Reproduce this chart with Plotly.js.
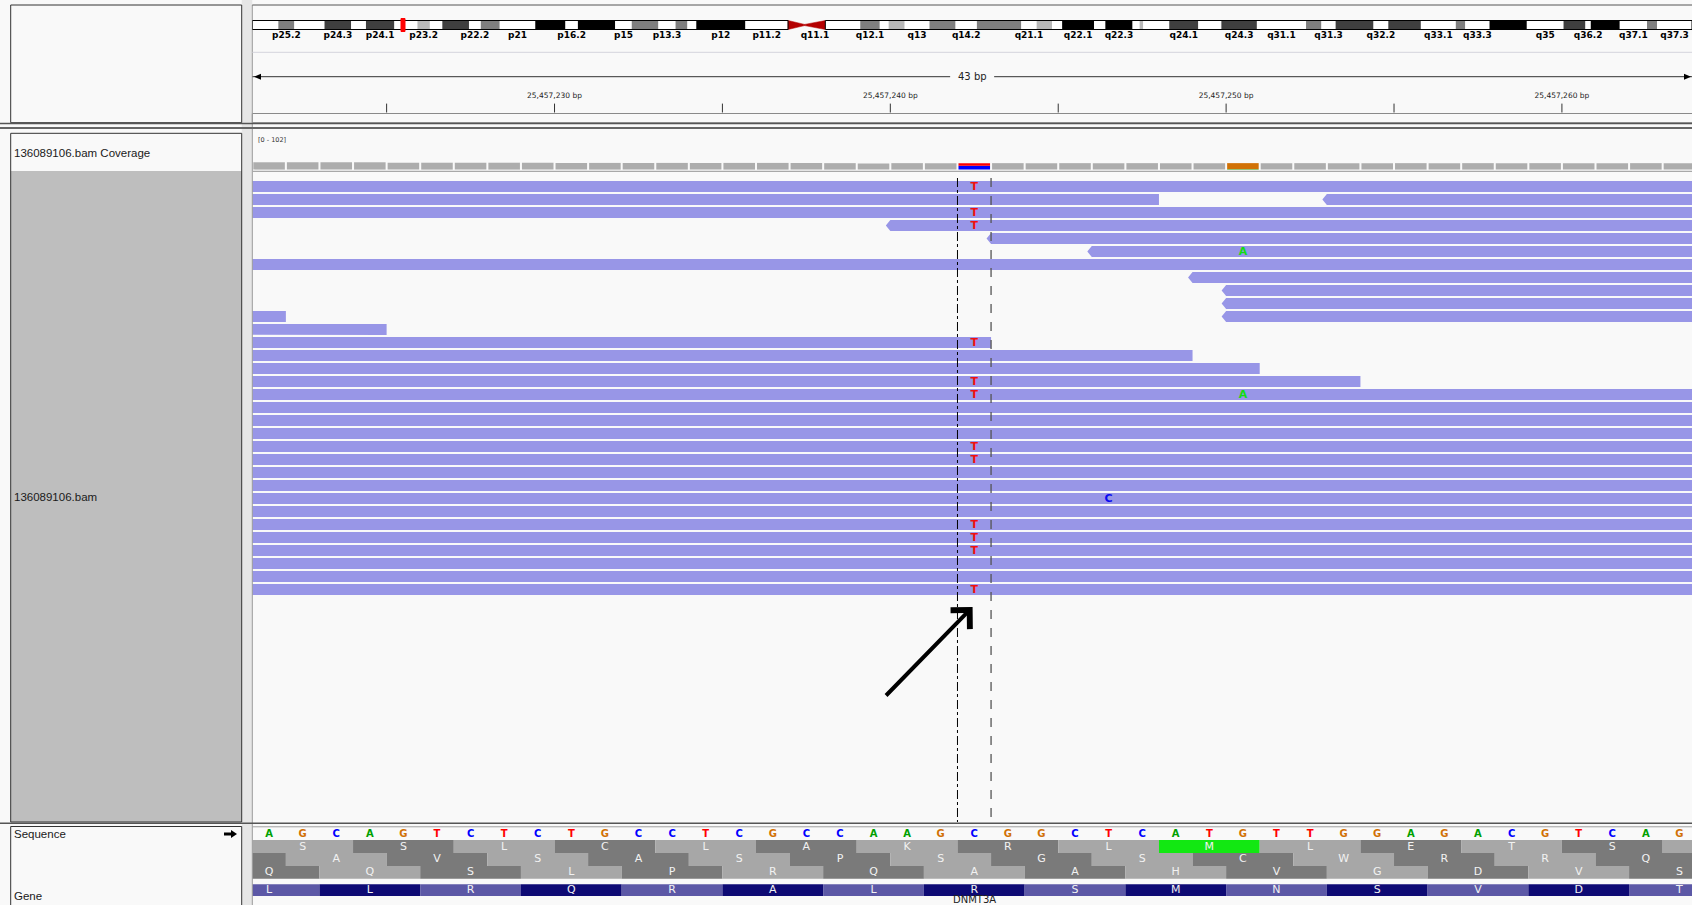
<!DOCTYPE html>
<html><head><meta charset="utf-8">
<script src="https://cdn.plot.ly/plotly-3.0.1.min.js"></script>
<style>html,body{margin:0;padding:0;background:#f9f9f9;overflow:hidden}#chart{width:1692px;height:905px}</style>
</head><body><div id="chart"></div>
<script>
// ================= DATA =================
const sampleName = '136089106.bam';
const chrLength = 243199373;
const bandNames = ['p25.3','p25.2','p25.1','p24.3','p24.2','p24.1','p23.3','p23.2','p23.1','p22.3','p22.2','p22.1','p21','p16.3','p16.2','p16.1','p15','p14','p13.3','p13.2','p13.1','p12','p11.2','p11.1','q11.1','q11.2','q12.1','q12.2','q12.3','q13','q14.1','q14.2','q14.3','q21.1','q21.2','q21.3','q22.1','q22.2','q22.3','q23.1','q23.2','q23.3','q24.1','q24.2','q24.3','q31.1','q31.2','q31.3','q32.1','q32.2','q32.3','q33.1','q33.2','q33.3','q34','q35','q36.1','q36.2','q36.3','q37.1','q37.2','q37.3'];
const bandStartsMb = [0,4.4,7.1,12.2,16.7,19.2,24.0,27.9,30.0,32.1,36.6,38.6,41.8,47.8,52.9,55.0,61.3,64.1,68.6,71.5,73.5,75.0,83.3,90.5,93.3,96.8,102.7,106.0,107.5,110.2,114.4,118.8,122.4,129.9,132.5,135.1,136.8,142.2,144.1,148.7,149.9,150.5,154.9,159.8,163.7,169.7,178.0,180.6,183.0,189.4,191.9,197.4,203.3,204.9,209.0,215.3,221.5,225.2,226.1,231.0,235.6,237.3];
const bandStains = ['gneg','gpos50','gneg','gpos75','gneg','gpos75','gneg','gpos25','gneg','gpos75','gneg','gpos50','gneg','gpos100','gneg','gpos100','gneg','gpos50','gneg','gpos50','gneg','gpos100','gneg','acen','acen','gneg','gpos50','gneg','gpos25','gneg','gpos50','gneg','gpos50','gneg','gpos25','gneg','gpos100','gneg','gpos100','gneg','gpos25','gneg','gpos75','gneg','gpos75','gneg','gpos50','gneg','gpos75','gneg','gpos75','gneg','gpos50','gneg','gpos100','gneg','gpos75','gneg','gpos100','gneg','gpos50','gneg'];
const bandLabelsShown = ['p25.2','p24.3','p24.1','p23.2','p22.2','p21','p16.2','p15','p13.3','p12','p11.2','q11.1','q12.1','q13','q14.2','q21.1','q22.1','q22.3','q24.1','q24.3','q31.1','q31.3','q32.2','q33.1','q33.3','q35','q36.2','q37.1','q37.3'];

const viewStart = 25457221;            // left edge of first visible base
const refSeq = 'AGCAGTCTCTGCCTCGCCAAGCGGCTCATGTTGGAGACGTCAG';
const rulerTicks = [25457225,25457230,25457235,25457240,25457245,25457250,25457255,25457260];
const rulerLabelled = [25457230,25457240,25457250,25457260];

const coverageMax = 102;
const coverage = [34,34,34,34,32,32,32,32,32,31,31,31,31,31,31,31,31,30,28,30,30,30,30,30,30,30,30,30,30,30,30,30,30,30,30,30,30,30,30,30,30,30,30];
const alleleBinOffsets = [21, 29];
const alleleBinCounts = [{C:18, T:12}, {A:2, G:28}];

// reads: row, start / end offsets (bp from viewStart), strand
const readRow   = [0, 1, 1, 2, 3, 4, 5, 6, 7, 8, 9, 10, 10, 11, 12, 13, 14, 15, 16,17,18,19,20,21,22,23,24,25,26,27,28,29,30,31];
const readStart = [-80,-80,32,-80,19,22,25,-80,28,29,29,-120,29,-120,-100,-100,-100,-100,-80,-80,-80,-80,-80,-80,-80,-80,-80,-80,-80,-80,-80,-80,-80,-80];
const readEnd   = [110,27,180,110,160,170,170,110,175,175,175,1,175,4,22,28,30,33,110,110,110,110,110,110,110,110,110,110,110,110,110,110,110,110];
const readStrand= ['-','-','-','-','-','-','-','-','-','-','-','-','-','-','-','-','-','-','-','-','-','-','-','-','-','-','-','-','-','-','-','-','-','-'];

// mismatches: row, offset, base
const mmRow  = [0,2,3,12,15,16,20,21,26,27,28,31, 5,16, 24];
const mmOff  = [21,21,21,21,21,21,21,21,21,21,21,21, 29,29, 25];
const mmBase = ['T','T','T','T','T','T','T','T','T','T','T','T','A','A','C'];

const variantOffset = 21;

// three-frame translation (first codon start offset, amino acids)
const frameStarts = [0, -2, -1];
const frameAA = ['SSLCLAKRLMLETS ', ' AVSASPSGSCWRRQ', 'QQSLPRQAAHVGDVS'];
// gene (DNMT3A, minus strand)
const geneName = 'DNMT3A';
const geneCodonStart = -1;
const geneAA = 'LLRQRALRSMNSVDT';

// ================= LAYOUT / STYLE =================
const W = 1692, H = 905;
const dataLeft = 252.3;
const pxPerBp = 33.58;
const viewEnd = viewStart + (W - dataLeft) / pxPerBp;
const P = x => x / W;
const FONT = "'DejaVu Sans', sans-serif";
const LFONT = "'Liberation Sans', Arial, sans-serif";
const seqColors = {A:'#00a000', C:'#0000ff', G:'#d17105', T:'#ff0000'};
const mmColors  = {A:'#12dc12', C:'#0a0af0', G:'#d17105', T:'#f01010'};
const stainColors = {gneg:'#ffffff', gpos25:'#b8b8b8', gpos50:'#7f7f7f', gpos75:'#3f3f3f', gpos100:'#000000'};

const shapes = [], annotations = [], traces = [];
const none = 'rgba(0,0,0,0)';
function rectP(x0,y0,x1,y1,fill,line,lw,layer){ shapes.push({type:'rect',xref:'paper',yref:'y',x0:P(x0),x1:P(x1),y0:y0,y1:y1,fillcolor:fill||none,line:{color:line||none,width:lw||0},layer:layer||'below'}); }
function lineP(x0,y0,x1,y1,color,lw){ shapes.push({type:'line',xref:'paper',yref:'y',x0:P(x0),x1:P(x1),y0:y0,y1:y1,line:{color:color,width:lw}}); }
function textP(x,y,t,size,color,anchor,family){ annotations.push({xref:'paper',yref:'y',x:P(x),y:y,text:t,showarrow:false,xanchor:anchor||'left',yanchor:'middle',borderpad:0,font:{family:family||LFONT,size:size,color:color||'#1a1a1a'}}); }

// ---------- left name panel & frame ----------
rectP(241.7,0,252.3,H,'#e6e6e6');
lineP(252.3,5,252.3,H,'#9a9a9a',1);
rectP(10.7,5,241.7,122.7,'#f9f9f9','#333',1);
rectP(10.7,133.3,241.7,171,'#f9f9f9');
rectP(10.7,171,241.7,822,'#bebebe');
rectP(10.7,133.3,241.7,822,null,'#333',1);
rectP(10.7,826.5,241.7,910,'#f9f9f9','#333',1);
lineP(0,123.4,W,123.4,'#555',1.5);
lineP(0,127.9,W,127.9,'#666',2);
lineP(252.3,5,W,5,'#555',1);
lineP(252.3,52.3,W,52.3,'#d4d4dc',1);
lineP(0,823.3,W,823.3,'#555',1.5);
lineP(252.3,826.8,W,826.8,'#a0a0a0',1);
rectP(252.3,113.5,W+2,122.7,null,'#8a8a8a',1);
textP(13,152.5,sampleName+' Coverage',11.5);
textP(13,497,sampleName,11.5);
textP(13,834,'Sequence',11.5);
textP(13,896,'Gene',11.5);
// strand arrow next to "Sequence"
shapes.push({type:'path',xref:'paper',yref:'y',path:`M${P(224)},832.6 L${P(231)},832.6 L${P(231)},830 L${P(237)},834 L${P(231)},838 L${P(231)},835.4 L${P(224)},835.4 Z`,fillcolor:'#000',line:{width:0}});

// ---------- ideogram ----------
const ideoTop = 20.5, ideoBot = 29.5, ideoMid = 25;
const bandEnds = bandStartsMb.slice(1).map(v => v*1e6).concat([chrLength]);
const bandLabX = [], bandLabT = [];
bandNames.forEach((nm, i) => {
  const s = bandStartsMb[i]*1e6, e = bandEnds[i];
  if (bandStains[i] === 'acen') {
    const path = nm.startsWith('p')
      ? `M${s},${ideoTop} L${e},${ideoMid-0.6} L${e},${ideoMid+0.6} L${s},${ideoBot} Z`
      : `M${s},${ideoMid-0.6} L${e},${ideoTop} L${e},${ideoBot} L${s},${ideoMid+0.6} Z`;
    shapes.push({type:'path',xref:'x2',yref:'y',path:path,fillcolor:'#b40000',line:{color:'#b40000',width:0.5},layer:'below'});
  } else {
    shapes.push({type:'rect',xref:'x2',yref:'y',x0:s,x1:e,y0:ideoTop,y1:ideoBot,fillcolor:stainColors[bandStains[i]],line:{width:0},layer:'below'});
  }
  if (bandLabelsShown.includes(nm)) { bandLabX.push((s+e)/2); bandLabT.push(nm); }
});
const pArmEnd = bandEnds[bandStains.indexOf('acen')-1];
const qArmStart = bandStartsMb[bandStains.lastIndexOf('acen')+1]*1e6;
shapes.push({type:'rect',xref:'x2',yref:'y',x0:0,x1:pArmEnd,y0:ideoTop,y1:ideoBot,fillcolor:none,line:{color:'#000',width:1}});
shapes.push({type:'rect',xref:'x2',yref:'y',x0:qArmStart,x1:chrLength,y0:ideoTop,y1:ideoBot,fillcolor:none,line:{color:'#000',width:1}});
shapes.push({type:'rect',xref:'x2',yref:'y',xsizemode:'pixel',xanchor:(viewStart+viewEnd)/2,x0:-2,x1:2,y0:18.5,y1:31.5,fillcolor:'#ff0000',line:{color:'#ff0000',width:1}});
traces.push({type:'scatter',mode:'text',xaxis:'x2',yaxis:'y',x:bandLabX,y:bandLabX.map(()=>35.5),text:bandLabT,
  textfont:{family:FONT,size:9,color:'#000',weight:'bold'},hoverinfo:'skip',cliponaxis:false});

// ---------- ruler ----------
const rulerY = 76.7;
const viewCenter = (viewStart+viewEnd)/2;
const gapBp = 22/pxPerBp;
shapes.push({type:'line',xref:'x',yref:'y',x0:viewStart,x1:viewCenter-gapBp,y0:rulerY,y1:rulerY,line:{color:'#333',width:1}});
shapes.push({type:'line',xref:'x',yref:'y',x0:viewCenter+gapBp,x1:viewEnd,y0:rulerY,y1:rulerY,line:{color:'#333',width:1}});
shapes.push({type:'path',xref:'paper',yref:'y',path:`M${P(254)},${rulerY} L${P(261)},${rulerY-3} L${P(261)},${rulerY+3} Z`,fillcolor:'#000',line:{width:0}});
shapes.push({type:'path',xref:'paper',yref:'y',path:`M${P(1691)},${rulerY} L${P(1684)},${rulerY-3} L${P(1684)},${rulerY+3} Z`,fillcolor:'#000',line:{width:0}});
annotations.push({xref:'x',yref:'y',x:viewCenter,y:rulerY,text:Math.round(viewEnd-viewStart)+' bp',showarrow:false,font:{family:FONT,size:10,color:'#222'}});
rulerTicks.forEach(t => shapes.push({type:'line',xref:'x',yref:'y',x0:t,x1:t,y0:103.6,y1:112.5,line:{color:'#333',width:1}}));
traces.push({type:'scatter',mode:'text',xaxis:'x',yaxis:'y',x:rulerLabelled,y:rulerLabelled.map(()=>96),
  text:rulerLabelled.map(t=>t.toLocaleString('en-US')+' bp'),textfont:{family:FONT,size:7.5,color:'#222'},hoverinfo:'skip',cliponaxis:false});

// ---------- coverage ----------
annotations.push({xref:'paper',yref:'y',x:P(255.7),y:140,text:'[0 - '+coverageMax+']',showarrow:false,xanchor:'left',font:{family:FONT,size:6.5,color:'#333'}});
const covBase = 169.6, covScale = 22/coverageMax;
coverage.forEach((c, i) => {
  const x0 = viewStart+i+0.03, x1 = viewStart+i+1-0.03;
  const ai = alleleBinOffsets.indexOf(i);
  if (ai < 0) {
    shapes.push({type:'rect',xref:'x',yref:'y',x0:x0,x1:x1,y0:covBase-c*covScale,y1:covBase,fillcolor:'#adadad',line:{width:0},layer:'below'});
  } else {
    let y = covBase;
    ['A','C','G','T'].forEach(b => {
      const n = alleleBinCounts[ai][b] || 0;
      if (!n) return;
      const h = n*covScale;
      shapes.push({type:'rect',xref:'x',yref:'y',x0:x0,x1:x1,y0:y-h,y1:y,fillcolor:seqColors[b],line:{width:0},layer:'below'});
      y -= h;
    });
  }
});
lineP(252.3,171.4,W,171.4,'#a8a8a8',1.2);

// ---------- reads ----------
const rowTop0 = 181, rowPitch = 13, barH = 11, arrowBp = 4.5/pxPerBp;
const rx = [], ry = [];
readRow.forEach((r, i) => {
  const top = rowTop0 + r*rowPitch, bot = top + barH, mid = (top+bot)/2;
  const s = viewStart + readStart[i], e = viewStart + readEnd[i];
  if (readStrand[i] === '-') { rx.push(s, e, e, s, s-arrowBp, s); ry.push(top, top, bot, bot, mid, top); }
  else { rx.push(s, e, e+arrowBp, e, s, s); ry.push(top, top, mid, bot, bot, top); }
  rx.push(null); ry.push(null);
});
traces.push({type:'scatter',mode:'lines',xaxis:'x',yaxis:'y',x:rx,y:ry,fill:'toself',fillcolor:'#9896e7',line:{width:0,color:'#9896e7'},hoverinfo:'skip',connectgaps:false});
traces.push({type:'scatter',mode:'text',xaxis:'x',yaxis:'y',x:mmOff.map(o=>viewStart+o+0.5),y:mmRow.map(r=>rowTop0+r*rowPitch+barH/2+0.5),
  text:mmBase,textfont:{family:FONT,size:11,color:mmBase.map(b=>mmColors[b]),weight:'bold'},hoverinfo:'skip'});
// highlighted column
shapes.push({type:'line',xref:'x',yref:'y',x0:viewStart+variantOffset,x1:viewStart+variantOffset,y0:178,y1:822,line:{color:'#000',width:1,dash:'dashdot'}});
shapes.push({type:'line',xref:'x',yref:'y',x0:viewStart+variantOffset+1,x1:viewStart+variantOffset+1,y0:178,y1:822,line:{color:'#555',width:1.3,dash:'dash'}});
// arrow annotation pointing at variant
const lastRowBottom = rowTop0 + Math.max(...readRow)*rowPitch + barH;
annotations.push({xref:'x',yref:'y',x:viewStart+variantOffset+0.45,y:lastRowBottom+12,ax:-88,ay:90,text:'',showarrow:true,arrowhead:4,arrowsize:1.3,arrowwidth:4,arrowcolor:'#000',standoff:0});

// ---------- sequence ----------
const seqX = refSeq.split('').map((b,i)=>viewStart+i+0.5);
traces.push({type:'scatter',mode:'text',xaxis:'x',yaxis:'y',x:seqX,y:seqX.map(()=>834.4),text:refSeq.split(''),
  textfont:{family:FONT,size:10,color:refSeq.split('').map(b=>seqColors[b]),weight:'bold'},hoverinfo:'skip'});
const trTop = 840, trH = 12.95;
const aaX = [], aaY = [], aaT = [];
frameAA.forEach((aas, r) => {
  aas.split('').forEach((aa, j) => {
    const s = frameStarts[r] + 3*j;
    const light = ((Math.floor(s/3) % 2) + 2) % 2 === 0;
    const fill = aa === 'M' ? '#12e812' : (light ? '#a7a7a7' : '#7a7a7a');
    const y0 = trTop + r*trH;
    shapes.push({type:'rect',xref:'x',yref:'y',x0:viewStart+s,x1:viewStart+s+3,y0:y0,y1:y0+trH,fillcolor:fill,line:{width:0},layer:'below'});
    if (aa.trim()) { aaX.push(viewStart+s+1.5); aaY.push(y0+trH/2+0.3); aaT.push(aa); }
  });
});
traces.push({type:'scatter',mode:'text',xaxis:'x',yaxis:'y',x:aaX,y:aaY,text:aaT,textfont:{family:FONT,size:11,color:'#f2f2f2'},hoverinfo:'skip'});

// ---------- gene ----------
const gTop = 884.3, gBot = 896;
const gX = [], gT = [];
geneAA.split('').forEach((aa, j) => {
  const s = geneCodonStart + 3*j;
  shapes.push({type:'rect',xref:'x',yref:'y',x0:viewStart+s,x1:viewStart+s+3,y0:gTop,y1:gBot,fillcolor:j%2===0?'#5c58a6':'#0e0a74',line:{width:0},layer:'below'});
  gX.push(viewStart+s+1.5); gT.push(aa);
});
traces.push({type:'scatter',mode:'text',xaxis:'x',yaxis:'y',x:gX,y:gX.map(()=>(gTop+gBot)/2+0.3),text:gT,textfont:{family:FONT,size:11,color:'#f2f2f2'},hoverinfo:'skip'});
annotations.push({xref:'x',yref:'y',x:viewStart+variantOffset+0.5,y:899,yanchor:'middle',text:geneName,showarrow:false,borderpad:0,font:{family:FONT,size:10,color:'#222'}});

// ================= PLOT =================
const layout = {
  width:W, height:H, margin:{l:0,r:0,t:0,b:0,pad:0},
  paper_bgcolor:'#f9f9f9', plot_bgcolor:'rgba(0,0,0,0)', showlegend:false,
  xaxis:{domain:[dataLeft/W,1],range:[viewStart,viewEnd],visible:false,fixedrange:true},
  xaxis2:{domain:[dataLeft/W,1],range:[0,chrLength],visible:false,overlaying:'x',anchor:'y',fixedrange:true},
  yaxis:{domain:[0,1],range:[H,0],visible:false,fixedrange:true},
  shapes:shapes, annotations:annotations
};
Plotly.newPlot('chart', traces, layout, {staticPlot:true, displayModeBar:false});
</script></body></html>
